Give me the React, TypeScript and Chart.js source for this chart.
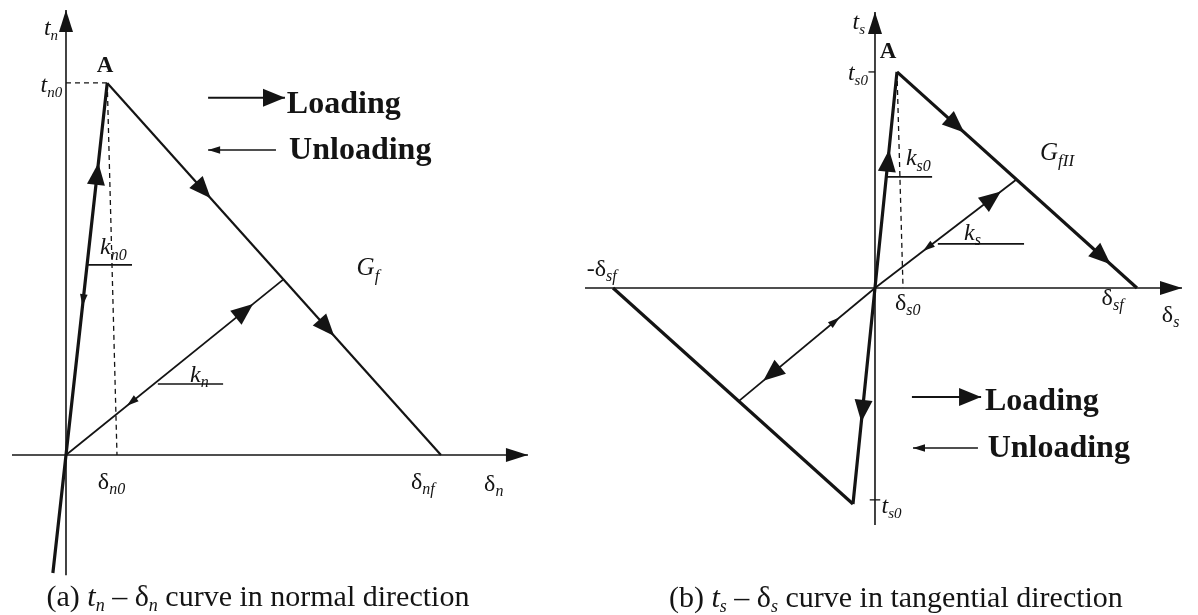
import React, { useEffect, useRef } from "react";
import { Chart, registerables } from "chart.js";
Chart.register(...registerables);

type P = [number, number];

// ---------- Panel (a): normal direction (relative units) ----------
const normalElastic: P[] = [[-0.35, -3.17], [0, 0], [1.1, 10]];
const normalSoftening: P[] = [[1.1, 10], [10, 0]];
const normalUnload: P[] = [[0, 0], [5.8, 4.72]];
const normalDashV: P[] = [[1.1, 10], [1.36, 0]];
const normalDashH: P[] = [[0, 10], [1.1, 10]];
const normalAxisX: P[] = [[-1.44, 0], [12.32, 0]];
const normalAxisY: P[] = [[0, -3.23], [0, 11.96]];
const normalK0Line: P[] = [[0.59, 5.11], [1.76, 5.11]];
const normalKLine: P[] = [[2.45, 1.91], [4.19, 1.91]];
const normalLegLoad: P[] = [[3.79, 9.6], [5.84, 9.6]];
const normalLegUnload: P[] = [[5.6, 8.2], [3.79, 8.2]];

// ---------- Panel (b): tangential direction (relative units) ----------
const shearElastic: P[] = [[-0.84, -10], [0, 0], [0.84, 10]];
const shearSoftening: P[] = [[0.84, 10], [10, 0]];
const shearSofteningNeg: P[] = [[-10, 0], [-0.84, -10]];
const shearUnload: P[] = [[0, 0], [5.4, 5.02]];
const shearUnloadNeg: P[] = [[0, 0], [-5.2, -5.24]];
const shearDashV: P[] = [[0.84, 10], [1.07, 0]];
const shearAxisX: P[] = [[-11.07, 0], [11.72, 0]];
const shearAxisY: P[] = [[0, -10.97], [0, 12.78]];
const shearTickTop: P[] = [[-0.25, 10], [0, 10]];
const shearTickBot: P[] = [[-0.2, -9.81], [0.2, -9.81]];
const shearKs0Line: P[] = [[0.42, 5.14], [2.18, 5.14]];
const shearKsLine: P[] = [[2.4, 2.04], [5.69, 2.04]];
const shearLegLoad: P[] = [[1.41, -5.05], [4.05, -5.05]];
const shearLegUnload: P[] = [[3.93, -7.41], [1.45, -7.41]];

// arrow heads: [from, to, fraction along, big?]
type Arrow = { a: P; b: P; t: number; big: boolean };
const normalArrows: Arrow[] = [
  { a: [0, 0], b: [1.1, 10], t: 0.785, big: true },
  { a: [1.1, 10], b: [0, 0], t: 0.6, big: false },
  { a: [1.1, 10], b: [10, 0], t: 0.31, big: true },
  { a: [1.1, 10], b: [10, 0], t: 0.68, big: true },
  { a: [0, 0], b: [5.8, 4.72], t: 0.86, big: true },
  { a: [5.8, 4.72], b: [0, 0], t: 0.72, big: false },
  { a: normalLegLoad[0], b: normalLegLoad[1], t: 1, big: true },
  { a: normalLegUnload[0], b: normalLegUnload[1], t: 1, big: false },
];
const shearArrows: Arrow[] = [
  { a: [0, 0], b: [0.84, 10], t: 0.64, big: true },
  { a: [0, 0], b: [-0.84, -10], t: 0.62, big: true },
  { a: [0.84, 10], b: [10, 0], t: 0.28, big: true },
  { a: [0.84, 10], b: [10, 0], t: 0.89, big: true },
  { a: [0, 0], b: [5.4, 5.02], t: 0.89, big: true },
  { a: [5.4, 5.02], b: [0, 0], t: 0.66, big: false },
  { a: [0, 0], b: [-5.2, -5.24], t: 0.82, big: true },
  { a: [-5.2, -5.24], b: [0, 0], t: 0.74, big: false },
  { a: shearLegLoad[0], b: shearLegLoad[1], t: 1, big: true },
  { a: shearLegUnload[0], b: shearLegUnload[1], t: 1, big: false },
];

// text pieces: t text, i italic, b bold, s size, dy baseline shift
type Part = { t: string; i?: boolean; b?: boolean; s?: number; dy?: number };
type Label = { at: P; align: "left" | "right" | "center"; parts: Part[] };
const sub = (t: string, s = 15, dy = 5): Part => ({ t, i: true, s, dy });

const normalLabels: Label[] = [
  { at: [-0.21, 11.3], align: "right", parts: [{ t: "t", i: true, s: 24 }, sub("n")] },
  { at: [-0.1, 9.76], align: "right", parts: [{ t: "t", i: true, s: 24 }, sub("n0")] },
  { at: [1.04, 10.3], align: "center", parts: [{ t: "A", b: true, s: 23 }] },
  { at: [0.91, 5.4], align: "left", parts: [{ t: "k", i: true, s: 24 }, sub("n0", 16, 6)] },
  { at: [3.31, 1.95], align: "left", parts: [{ t: "k", i: true, s: 24 }, sub("n", 16, 5)] },
  { at: [7.75, 4.84], align: "left", parts: [{ t: "G", i: true, s: 25 }, sub("f", 17, 6)] },
  { at: [0.85, -0.9], align: "left", parts: [{ t: "δ", s: 24 }, sub("n0", 16, 5)] },
  { at: [9.2, -0.9], align: "left", parts: [{ t: "δ", s: 24 }, sub("nf", 16, 5)] },
  { at: [11.15, -0.98], align: "left", parts: [{ t: "δ", s: 24 }, sub("n", 16, 5)] },
  { at: [5.89, 9.2], align: "left", parts: [{ t: "Loading", b: true, s: 32 }] },
  { at: [5.95, 7.96], align: "left", parts: [{ t: "Unloading", b: true, s: 32 }] },
  {
    at: [5.12, -4.06], align: "center",
    parts: [{ t: "(a) ", s: 30 }, { t: "t", i: true, s: 30 }, sub("n", 18, 5), { t: " – δ", s: 30 }, sub("n", 18, 5), { t: " curve in normal direction", s: 30 }],
  },
];

const shearLabels: Label[] = [
  { at: [-0.38, 12.0], align: "right", parts: [{ t: "t", i: true, s: 24 }, sub("s")] },
  { at: [0.5, 10.65], align: "center", parts: [{ t: "A", b: true, s: 23 }] },
  { at: [-0.27, 9.63], align: "right", parts: [{ t: "t", i: true, s: 24 }, sub("s0")] },
  { at: [0.25, -10.4], align: "left", parts: [{ t: "t", i: true, s: 24 }, sub("s0")] },
  { at: [1.18, 5.69], align: "left", parts: [{ t: "k", i: true, s: 24 }, sub("s0", 16, 6)] },
  { at: [3.4, 2.22], align: "left", parts: [{ t: "k", i: true, s: 24 }, sub("s", 16, 5)] },
  { at: [6.3, 5.93], align: "left", parts: [{ t: "G", i: true, s: 25 }, sub("fII", 17, 6)] },
  { at: [-11.0, 0.56], align: "left", parts: [{ t: "-δ", s: 24 }, sub("sf", 16, 5)] },
  { at: [0.76, -1.02], align: "left", parts: [{ t: "δ", s: 24 }, sub("s0", 16, 5)] },
  { at: [8.65, -0.79], align: "left", parts: [{ t: "δ", s: 24 }, sub("sf", 16, 5)] },
  { at: [10.95, -1.57], align: "left", parts: [{ t: "δ", s: 24 }, sub("s", 16, 5)] },
  { at: [4.2, -5.65], align: "left", parts: [{ t: "Loading", b: true, s: 32 }] },
  { at: [4.3, -7.83], align: "left", parts: [{ t: "Unloading", b: true, s: 32 }] },
  {
    at: [0.8, -14.77], align: "center",
    parts: [{ t: "(b) ", s: 30 }, { t: "t", i: true, s: 30 }, sub("s", 18, 5), { t: " – δ", s: 30 }, sub("s", 18, 5), { t: " curve in tangential direction", s: 30 }],
  },
];

const INK = "#141414";
const FONT = "'Liberation Serif', 'DejaVu Serif', serif";

function line(data: P[], width: number, axes: "n" | "s", dash: number[] = []) {
  return {
    data: data.map(([x, y]) => ({ x, y })),
    showLine: true,
    borderColor: INK,
    backgroundColor: INK,
    borderWidth: width,
    borderDash: dash,
    pointRadius: 0,
    pointHoverRadius: 0,
    clip: false as const,
    xAxisID: axes === "n" ? "x" : "x2",
    yAxisID: axes === "n" ? "y" : "y2",
  };
}

function head(ctx: CanvasRenderingContext2D, x: number, y: number, ang: number, len: number, half: number) {
  const c = Math.cos(ang), s = Math.sin(ang);
  const bx = x - len * c, by = y - len * s;
  ctx.beginPath();
  ctx.moveTo(x, y);
  ctx.lineTo(bx + half * s, by - half * c);
  ctx.lineTo(bx - half * s, by + half * c);
  ctx.closePath();
  ctx.fill();
}

function fontOf(p: Part) {
  return `${p.i ? "italic " : ""}${p.b ? "bold " : ""}${p.s ?? 22}px ${FONT}`;
}

const decoPlugin = {
  id: "deco",
  afterDatasetsDraw(chart: any) {
    const ctx: CanvasRenderingContext2D = chart.ctx;
    const groups: [Arrow[], Label[], P[][], string, string][] = [
      [normalArrows, normalLabels, [normalAxisX, normalAxisY], "x", "y"],
      [shearArrows, shearLabels, [shearAxisX, shearAxisY], "x2", "y2"],
    ];
    ctx.save();
    ctx.fillStyle = INK;
    for (const [arrows, labels, axes, xid, yid] of groups) {
      const sx = chart.scales[xid], sy = chart.scales[yid];
      const px = (p: P) => [sx.getPixelForValue(p[0]), sy.getPixelForValue(p[1])];
      for (const ax of axes) {
        const [x0, y0] = px(ax[0]);
        const [x1, y1] = px(ax[1]);
        head(ctx, x1, y1, Math.atan2(y1 - y0, x1 - x0), 22, 7);
      }
      for (const ar of arrows) {
        const [x0, y0] = px(ar.a);
        const [x1, y1] = px(ar.b);
        const tx = x0 + (x1 - x0) * ar.t, ty = y0 + (y1 - y0) * ar.t;
        const ang = Math.atan2(y1 - y0, x1 - x0);
        if (ar.big) head(ctx, tx, ty, ang, 22, 9);
        else head(ctx, tx, ty, ang, 12, 3.8);
      }
      ctx.textBaseline = "alphabetic";
      ctx.textAlign = "left";
      for (const lb of labels) {
        const [x, y] = px(lb.at);
        let w = 0;
        for (const p of lb.parts) {
          ctx.font = fontOf(p);
          w += ctx.measureText(p.t).width;
        }
        let cx = lb.align === "left" ? x : lb.align === "right" ? x - w : x - w / 2;
        for (const p of lb.parts) {
          ctx.font = fontOf(p);
          ctx.fillText(p.t, cx, y + (p.dy ?? 0));
          cx += ctx.measureText(p.t).width;
        }
      }
    }
    ctx.restore();
  },
};

export default function App() {
  const ref = useRef<HTMLCanvasElement | null>(null);
  useEffect(() => {
    if (!ref.current) return;
    const chart = new Chart(ref.current, {
      type: "scatter",
      data: {
        datasets: [
          line(normalAxisX, 1.6, "n"),
          line(normalAxisY, 1.6, "n"),
          line(normalDashH, 1.3, "n", [5, 4]),
          line(normalDashV, 1.3, "n", [5, 4]),
          line(normalElastic, 3.2, "n"),
          line(normalSoftening, 2.2, "n"),
          line(normalUnload, 1.8, "n"),
          line(normalK0Line, 1.6, "n"),
          line(normalKLine, 1.6, "n"),
          line(normalLegLoad, 2, "n"),
          line(normalLegUnload, 1.6, "n"),
          line(shearAxisX, 1.6, "s"),
          line(shearAxisY, 1.6, "s"),
          line(shearTickTop, 1.3, "s"),
          line(shearTickBot, 1.3, "s"),
          line(shearDashV, 1.3, "s", [5, 4]),
          line(shearElastic, 3.2, "s"),
          line(shearSoftening, 3.2, "s"),
          line(shearSofteningNeg, 3.2, "s"),
          line(shearUnload, 1.8, "s"),
          line(shearUnloadNeg, 1.8, "s"),
          line(shearKs0Line, 1.6, "s"),
          line(shearKsLine, 1.6, "s"),
          line(shearLegLoad, 2, "s"),
          line(shearLegUnload, 1.6, "s"),
        ],
      },
      options: {
        responsive: false,
        animation: false,
        events: [],
        layout: { padding: 0 },
        plugins: { legend: { display: false }, tooltip: { enabled: false }, title: { display: false } },
        scales: {
          x: { type: "linear", display: false, min: -1.76, max: 30.19 },
          y: { type: "linear", display: false, min: -4.3, max: 12.23 },
          x2: { type: "linear", display: false, min: -33.4, max: 12.33 },
          y2: { type: "linear", display: false, min: -15.14, max: 13.33 },
        },
      },
      plugins: [decoPlugin],
    });
    return () => chart.destroy();
  }, []);
  return (
    <div style={{ position: "absolute", left: 0, top: 0, width: 1198, height: 615, background: "#fff" }}>
      <canvas ref={ref} width={1198} height={615} style={{ display: "block" }} />
    </div>
  );
}
